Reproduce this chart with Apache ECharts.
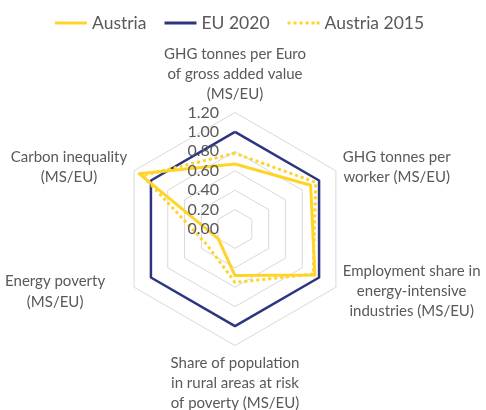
<!DOCTYPE html>
<html>
<head>
<meta charset="utf-8">
<script src="https://cdn.jsdelivr.net/npm/echarts@6/dist/echarts.min.js"></script>
<style>
html,body{margin:0;padding:0;background:#fff;}
#c{width:486px;height:410px;}
</style>
</head>
<body>
<div id="c"></div>
<script>
// Indicators in clockwise order starting at the top (as in the reference)
var indicators = [
  'GHG tonnes per Euro\nof gross added value\n(MS/EU)',
  'GHG tonnes per\nworker (MS/EU)',
  'Employment share in\nenergy-intensive\nindustries (MS/EU)',
  'Share of population\nin rural areas at risk\nof poverty (MS/EU)',
  'Energy poverty\n(MS/EU)',
  'Carbon inequality\n(MS/EU)'
];
var austria     = [0.67, 0.90, 0.95, 0.48, 0.20, 1.14];
var eu2020      = [1.00, 1.00, 1.00, 1.00, 1.00, 1.00];
var austria2015 = [0.78, 0.96, 0.93, 0.55, 0.33, 1.10];
var seriesNames = ['Austria', 'EU 2020', 'Austria 2015'];
var tickMin = 0, tickMax = 1.2, tickStep = 0.2;

var YELLOW = '#FFD42A', NAVY = '#2B3580', TXT = '#595959';
var FONT = 'Lato';

// ECharts places radar indicators counter-clockwise; reorder to get clockwise
var order = [0, 5, 4, 3, 2, 1];
function reorder(a){ return order.map(function(i){ return a[i]; }); }

var chart = echarts.init(document.getElementById('c'), null, {renderer:'canvas'});
chart.setOption({
  animation: false,
  backgroundColor: '#fff',
  legend: {
    top: 14,
    left: 55,
    padding: 0,
    itemGap: 18,
    itemWidth: 32,
    itemHeight: 3,
    textStyle: {color: TXT, fontSize: 17.5, fontFamily: FONT},
    data: [
      {name: 'Austria', icon: 'path://M0 0H32V3H0Z', itemStyle:{color:YELLOW}},
      {name: 'EU 2020', icon: 'path://M0 0H32V3H0Z', itemStyle:{color:NAVY}},
      {name: 'Austria 2015', icon: 'path://M0 0H3V3H0Z M6 0H9V3H6Z M12 0H15V3H12Z M18 0H21V3H18Z M24 0H27V3H24Z M29 0H32V3H29Z', itemStyle:{color:YELLOW}}
    ]
  },
  radar: {
    center: [235, 229],
    radius: 116.5,
    startAngle: 90,
    shape: 'polygon',
    splitNumber: 6,
    nameGap: 8,
    indicator: reorder(indicators).map(function(n){ return {name: n, min: tickMin, max: tickMax}; }),
    axisName: {
      color: TXT, fontSize: 15, fontFamily: FONT, lineHeight: 20,
      formatter: function(v){
        var key = v.indexOf('Energy poverty') === 0 ? 'e' : 'c';
        return v.split('\n').map(function(l){ return '{' + key + '|' + l + '}'; }).join('\n');
      },
      rich: {
        c: {align: 'center', color: TXT, fontSize: 15, fontFamily: FONT, lineHeight: 20},
        e: {align: 'center', color: TXT, fontSize: 15, fontFamily: FONT, lineHeight: 21, padding: [0, 22, 0, 0]}
      }
    },
    axisLine: {show: false},
    axisTick: {show: false},
    axisLabel: {show: false},
    splitLine: {lineStyle: {color: '#D9D9D9', width: 1}},
    splitArea: {show: false}
  },
  grid: {left: 235, top: 229 - 116.5, height: 116.5, width: 1},
  xAxis: {type: 'value', show: false},
  yAxis: {
    type: 'value', min: tickMin, max: tickMax, interval: tickStep,
    axisLine: {show: false}, axisTick: {show: false}, splitLine: {show: false},
    axisLabel: {
      margin: 16, color: TXT, fontSize: 16, fontFamily: FONT,
      formatter: function(v){ return v.toFixed(2); }
    },
    z: 10
  },
  series: [{
    type: 'radar',
    symbol: 'none',
    z: 2,
    data: [
      {name: seriesNames[1], value: reorder(eu2020), lineStyle: {color: NAVY, width: 2.5}, itemStyle:{color:NAVY}},
      {name: seriesNames[2], value: reorder(austria2015), lineStyle: {color: YELLOW, width: 3, type: [3, 3]}, itemStyle:{color:YELLOW}},
      {name: seriesNames[0], value: reorder(austria), lineStyle: {color: YELLOW, width: 3}, itemStyle:{color:YELLOW}}
    ]
  }]
});
</script>
</body>
</html>
